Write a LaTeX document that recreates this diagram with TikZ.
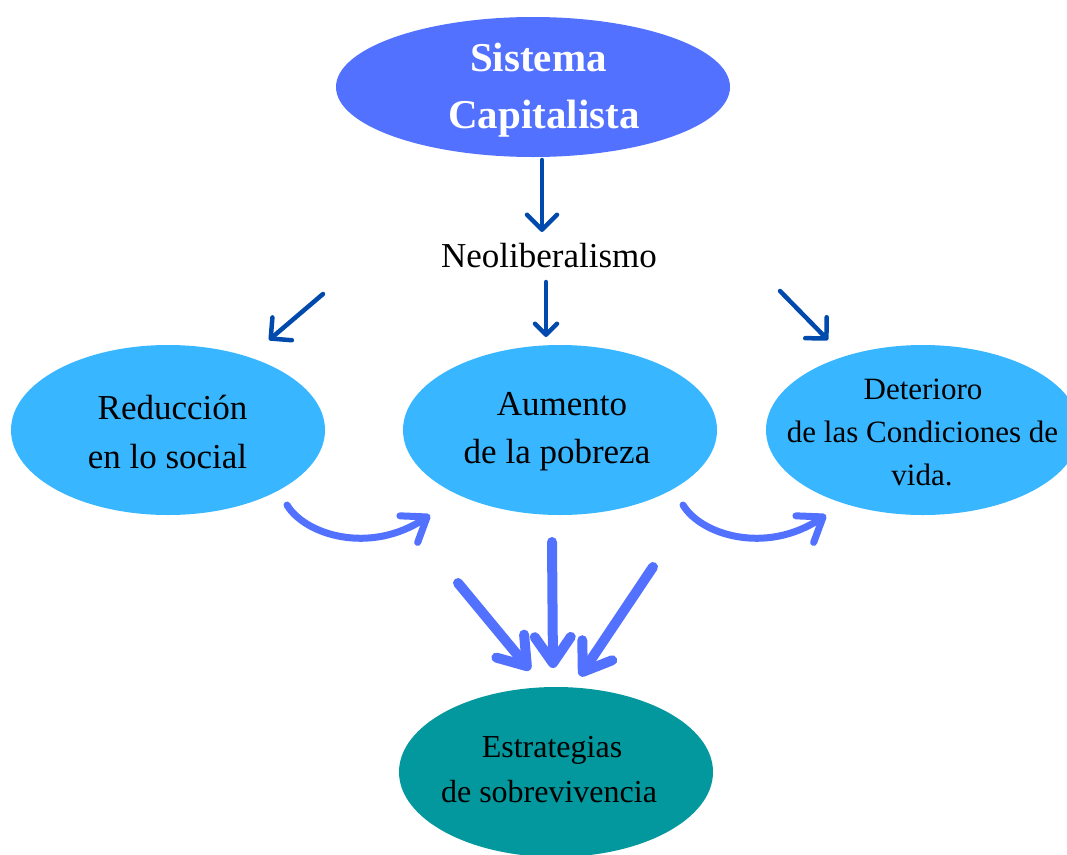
\documentclass[tikz,border=0pt]{standalone}
\usepackage{fontspec}
\setmainfont{Liberation Serif}
\usetikzlibrary{arrows.meta,shapes.geometric}
\definecolor{capblue}{HTML}{5271FF}
\definecolor{lightblue}{HTML}{38B6FF}
\definecolor{tealbox}{HTML}{03989E}
\definecolor{darkblue}{HTML}{004AAD}
\begin{document}
\begin{tikzpicture}[x=1pt,y=-1pt,
  bubble/.style={ellipse, inner sep=0pt, outer sep=0pt, minimum width=314pt, minimum height=170pt, fill=lightblue},
  txt/.style={anchor=base, inner sep=0pt, text=black},
  bigtxt/.style={txt, font=\fontsize{35}{42}\selectfont},
  smalltxt/.style={txt, font=\fontsize{31}{37}\selectfont},
  bottxt/.style={txt, font=\fontsize{32}{38}\selectfont},
  toptxt/.style={txt, text=white, font=\fontsize{41}{49}\selectfont\bfseries},
  darr/.style={draw=darkblue, line width=4.5pt, line cap=round, line join=round},
  bigarr/.style={draw=capblue, line width=10pt, line cap=round, line join=round,
    -{Straight Barb[round,length=26pt,width=36pt]}},
  curarr/.style={draw=capblue, line width=7pt, line cap=round, line join=round,
    -{Straight Barb[round,length=22pt,width=32pt]}}
]
\useasboundingbox (0,0) rectangle (1067,854);
\clip (0,0) rectangle (1067,854);
\fill[white] (0,0) rectangle (1067,854);

% ellipses
\node[bubble, fill=capblue, minimum width=394pt, minimum height=140pt] (top) at (533,87) {};
\node[bubble] (red) at (168,430) {};
\node[bubble] (aum) at (560,430) {};
\node[bubble] (det) at (923,430) {};
\node[bubble, fill=tealbox] (est) at (556,772) {};

% texts
\node[toptxt] (t1) at (538.5,71) {Sistema};
\node[toptxt] (t2) at (544,128) {Capitalista};
\node[bigtxt] (neo) at (549,267) {Neoliberalismo};
\node[bigtxt] (r1) at (172.5,419) {Reducción};
\node[bigtxt] (r2) at (167.5,468) {en lo social};
\node[bigtxt] (a1) at (562,415) {Aumento};
\node[bigtxt] (a2) at (557,463) {de la pobreza};
\node[smalltxt] (d1) at (923,399) {Deterioro};
\node[smalltxt] (d2) at (922.5,442) {de las Condiciones de};
\node[smalltxt] (d3) at (922,485) {vida.};
\node[bottxt] (e1) at (552,757) {Estrategias};
\node[bottxt] (e2) at (549,802) {de sobrevivencia};

% dark blue arrows
\coordinate (k1s) at (542,160); \coordinate (k1e) at (542,232);
\coordinate (k2s) at (546,282); \coordinate (k2e) at (546,337);
\coordinate (k3s) at (323,294); \coordinate (k3e) at (269,340);
\coordinate (k4s) at (780,291); \coordinate (k4e) at (828,340);
\draw[darr, -{Straight Barb[round,length=15pt,width=30pt]}] (k1s) -- (k1e);
\draw[darr, -{Straight Barb[round,length=11pt,width=22pt]}] (k2s) -- (k2e);
\draw[darr, -{Straight Barb[round,length=15pt,width=30pt]}] (k3s) -- (k3e);
\draw[darr, -{Straight Barb[round,length=15pt,width=30pt]}] (k4s) -- (k4e);

% curved arrows
\coordinate (c1s) at (287,505); \coordinate (c1e) at (430,515);
\coordinate (c2s) at (683,505); \coordinate (c2e) at (826,515);
\draw[curarr] (c1s) .. controls (305,535) and (370,555) .. (c1e);
\draw[curarr] (c2s) .. controls (701,535) and (766,555) .. (c2e);

% converging arrows
\coordinate (b1s) at (458,583); \coordinate (b1e) at (530,670);
\coordinate (b2s) at (552,542); \coordinate (b2e) at (553,668);
\coordinate (b3s) at (653,567); \coordinate (b3e) at (580,676);
\draw[bigarr] (b1s) -- (b1e);
\draw[bigarr] (b2s) -- (b2e);
\draw[bigarr] (b3s) -- (b3e);
\end{tikzpicture}
\end{document}
